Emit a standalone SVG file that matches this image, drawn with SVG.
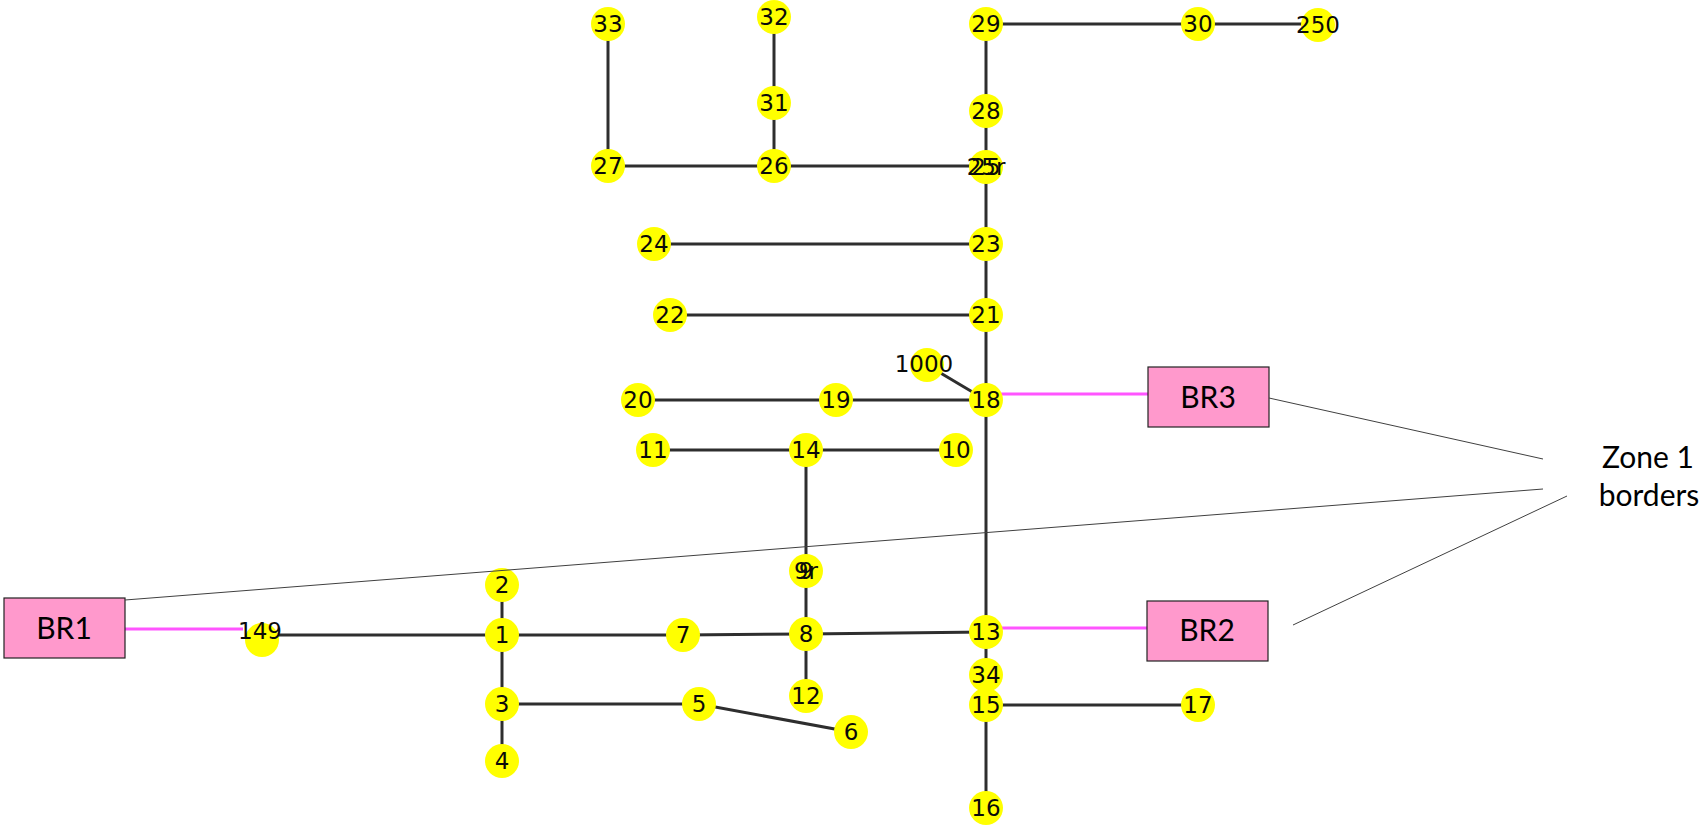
<svg xmlns="http://www.w3.org/2000/svg" width="1701" height="829" viewBox="0 0 1701 829">
<style>
.e{stroke:#2e2e2e;stroke-width:3;fill:none}
.m{stroke:#ff55ff;stroke-width:3;fill:none}
.z{stroke:#404040;stroke-width:1;fill:none}
.n circle{fill:#ffff00}
.n text{font-family:"DejaVu Sans",sans-serif;font-size:23px;fill:#0a0a0a;text-anchor:middle}
.br rect{fill:#ff99cc;stroke:#222;stroke-width:1.2}
.br text,.lbl{font-family:Lato,"Open Sans",sans-serif;font-size:30px;fill:#000;text-anchor:middle}
</style>
<rect width="1701" height="829" fill="#fff"/>
<g id="connectors">
<line class="e" x1="608" y1="24" x2="608" y2="166"/>
<line class="e" x1="774" y1="17" x2="774" y2="103"/>
<line class="e" x1="774" y1="103" x2="774" y2="166"/>
<line class="e" x1="608" y1="166" x2="774" y2="166"/>
<line class="e" x1="774" y1="166" x2="986" y2="166"/>
<line class="e" x1="986" y1="24" x2="986" y2="111"/>
<line class="e" x1="986" y1="111" x2="986" y2="166"/>
<line class="e" x1="986" y1="24" x2="1198" y2="24"/>
<line class="e" x1="1198" y1="24" x2="1318" y2="24"/>
<line class="e" x1="986" y1="166" x2="986" y2="244"/>
<line class="e" x1="654" y1="244" x2="986" y2="244"/>
<line class="e" x1="986" y1="244" x2="986" y2="315"/>
<line class="e" x1="670" y1="315" x2="986" y2="315"/>
<line class="e" x1="986" y1="315" x2="986" y2="400"/>
<line class="e" x1="927" y1="365" x2="986" y2="400"/>
<line class="e" x1="638" y1="400" x2="836" y2="400"/>
<line class="e" x1="836" y1="400" x2="986" y2="400"/>
<line class="e" x1="986" y1="400" x2="986" y2="632"/>
<line class="e" x1="653" y1="450" x2="806" y2="450"/>
<line class="e" x1="806" y1="450" x2="956" y2="450"/>
<line class="e" x1="806" y1="450" x2="806" y2="571"/>
<line class="e" x1="806" y1="571" x2="806" y2="634"/>
<line class="e" x1="262" y1="635" x2="502" y2="635"/>
<line class="e" x1="502" y1="585" x2="502" y2="635"/>
<line class="e" x1="502" y1="635" x2="683" y2="635"/>
<line class="e" x1="683" y1="635" x2="806" y2="634"/>
<line class="e" x1="806" y1="634" x2="986" y2="632"/>
<line class="e" x1="806" y1="634" x2="806" y2="696"/>
<line class="e" x1="502" y1="635" x2="502" y2="704"/>
<line class="e" x1="502" y1="704" x2="502" y2="761"/>
<line class="e" x1="502" y1="704" x2="699" y2="704"/>
<line class="e" x1="699" y1="704" x2="851" y2="732"/>
<line class="e" x1="986" y1="632" x2="986" y2="675"/>
<line class="e" x1="986" y1="675" x2="986" y2="705"/>
<line class="e" x1="986" y1="705" x2="1198" y2="705"/>
<line class="e" x1="986" y1="705" x2="986" y2="808"/>
<line class="m" x1="125" y1="629" x2="243" y2="629"/>
<line class="m" x1="990" y1="394" x2="1148" y2="394"/>
<line class="m" x1="990" y1="628" x2="1147" y2="628"/>
</g>
<g id="n33" class="n"><circle cx="608" cy="24" r="17"/><text x="608" y="32">33</text></g>
<g id="n32" class="n"><circle cx="774" cy="17" r="17"/><text x="774" y="25">32</text></g>
<g id="n29" class="n"><circle cx="986" cy="24" r="17"/><text x="986" y="32">29</text></g>
<g id="n30" class="n"><circle cx="1198" cy="24" r="17"/><text x="1198" y="32">30</text></g>
<g id="n250" class="n"><circle cx="1318" cy="25" r="17"/><text x="1318" y="33">250</text></g>
<g id="n31" class="n"><circle cx="774" cy="103" r="17"/><text x="774" y="111">31</text></g>
<g id="n28" class="n"><circle cx="986" cy="111" r="17"/><text x="986" y="119">28</text></g>
<g id="n27" class="n"><circle cx="608" cy="166" r="17"/><text x="608" y="174">27</text></g>
<g id="n26" class="n"><circle cx="774" cy="166" r="17"/><text x="774" y="174">26</text></g>
<g id="n25" class="n"><circle cx="986" cy="167" r="17"/><text x="986" y="175">25</text><text x="986" y="175">25r</text></g>
<g id="n24" class="n"><circle cx="654" cy="244" r="17"/><text x="654" y="252">24</text></g>
<g id="n23" class="n"><circle cx="986" cy="244" r="17"/><text x="986" y="252">23</text></g>
<g id="n22" class="n"><circle cx="670" cy="315" r="17"/><text x="670" y="323">22</text></g>
<g id="n21" class="n"><circle cx="986" cy="315" r="17"/><text x="986" y="323">21</text></g>
<g id="n1000" class="n"><circle cx="927" cy="365" r="17"/><text x="924" y="372">1000</text></g>
<g id="n20" class="n"><circle cx="638" cy="400" r="17"/><text x="638" y="408">20</text></g>
<g id="n19" class="n"><circle cx="836" cy="400" r="17"/><text x="836" y="408">19</text></g>
<g id="n18" class="n"><circle cx="986" cy="400" r="17"/><text x="986" y="408">18</text></g>
<g id="n11" class="n"><circle cx="653" cy="450" r="17"/><text x="653" y="458">11</text></g>
<g id="n14" class="n"><circle cx="806" cy="450" r="17"/><text x="806" y="458">14</text></g>
<g id="n10" class="n"><circle cx="956" cy="450" r="17"/><text x="956" y="458">10</text></g>
<g id="n9" class="n"><circle cx="806" cy="571" r="17"/><text x="806" y="579">9</text><text x="806" y="579">9r</text></g>
<g id="n2" class="n"><circle cx="502" cy="585" r="17"/><text x="502" y="593">2</text></g>
<g id="n149" class="n"><circle cx="262" cy="640" r="17"/><text x="260" y="639">149</text></g>
<g id="n1" class="n"><circle cx="502" cy="635" r="17"/><text x="502" y="643">1</text></g>
<g id="n7" class="n"><circle cx="683" cy="635" r="17"/><text x="683" y="643">7</text></g>
<g id="n8" class="n"><circle cx="806" cy="634" r="17"/><text x="806" y="642">8</text></g>
<g id="n13" class="n"><circle cx="986" cy="632" r="17"/><text x="986" y="640">13</text></g>
<g id="n34" class="n"><circle cx="986" cy="675" r="17"/><text x="986" y="683">34</text></g>
<g id="n3" class="n"><circle cx="502" cy="704" r="17"/><text x="502" y="712">3</text></g>
<g id="n5" class="n"><circle cx="699" cy="704" r="17"/><text x="699" y="712">5</text></g>
<g id="n15" class="n"><circle cx="986" cy="705" r="17"/><text x="986" y="713">15</text></g>
<g id="n17" class="n"><circle cx="1198" cy="705" r="17"/><text x="1198" y="713">17</text></g>
<g id="n12" class="n"><circle cx="806" cy="696" r="17"/><text x="806" y="704">12</text></g>
<g id="n6" class="n"><circle cx="851" cy="732" r="17"/><text x="851" y="740">6</text></g>
<g id="n4" class="n"><circle cx="502" cy="761" r="17"/><text x="502" y="769">4</text></g>
<g id="n16" class="n"><circle cx="986" cy="808" r="17"/><text x="986" y="816">16</text></g>
<g id="BR1" class="br"><rect x="4" y="598" width="121" height="60"/><text x="64" y="639">BR1</text></g>
<g id="BR3" class="br"><rect x="1148" y="367" width="121" height="60"/><text x="1208" y="408">BR3</text></g>
<g id="BR2" class="br"><rect x="1147" y="601" width="121" height="60"/><text x="1207" y="641">BR2</text></g>
<g id="zone-lines">
<line class="z" x1="1269" y1="398" x2="1543" y2="459"/>
<line class="z" x1="125" y1="600" x2="1543" y2="489"/>
<line class="z" x1="1567" y1="496" x2="1293" y2="625"/>
</g>
<g id="zone-label"><text class="lbl" x="1648" y="468">Zone 1</text><text class="lbl" x="1649" y="506">borders</text></g>
</svg>
